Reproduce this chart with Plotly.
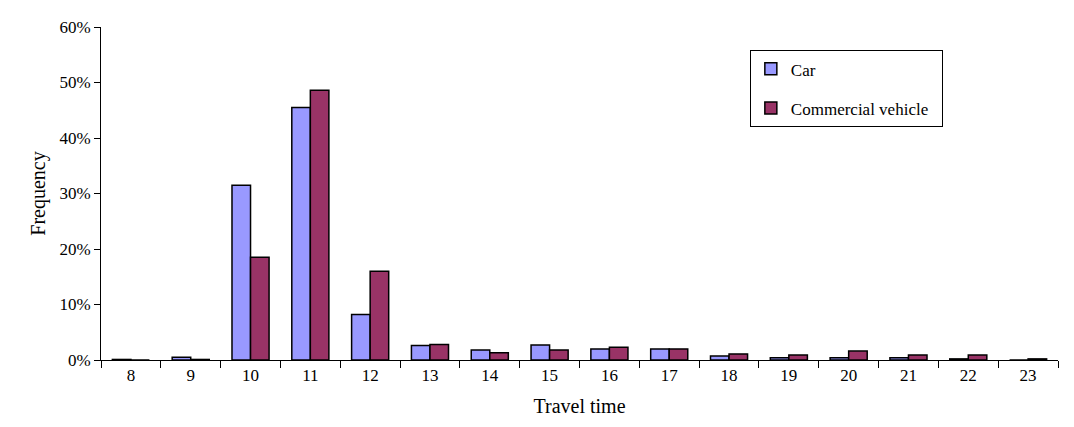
import plotly.graph_objects as go

travel_time = [str(t) for t in range(8, 24)]
car = [0.1, 0.5, 31.5, 45.5, 8.2, 2.6, 1.8, 2.7, 2.0, 2.0, 0.7, 0.4, 0.4, 0.4, 0.2, 0.0]
commercial = [0.0, 0.1, 18.5, 48.6, 16.0, 2.8, 1.3, 1.8, 2.3, 2.0, 1.1, 0.9, 1.6, 0.9, 0.9, 0.2]

fig = go.Figure()
fig.add_bar(x=travel_time, y=[v / 100 for v in car], name='Car', legendgroup='a',
            marker=dict(color='#9999FF', line=dict(color='black', width=1.5)))
fig.add_bar(x=travel_time, y=[v / 100 for v in commercial], name='Commercial vehicle  ',
            legendgroup='b',
            marker=dict(color='#993366', line=dict(color='black', width=1.5)))

fig.update_layout(
    width=1074, height=427,
    plot_bgcolor='white', paper_bgcolor='white',
    font=dict(family='Liberation Serif, Times New Roman, serif', size=17, color='black'),
    margin=dict(l=93, r=24, t=10, b=75),
    bargap=0.38, bargroupgap=0,
    legend=dict(x=0.678, y=0.93, xanchor='left', yanchor='top',
                bordercolor='black', borderwidth=1, bgcolor='white',
                tracegroupgap=14, font=dict(size=17)),
    xaxis=dict(title=dict(text='Travel time', standoff=14), showline=True, linecolor='black',
               ticks='outside', tickson='boundaries', tickcolor='black', ticklen=7,
               showgrid=False),
    yaxis=dict(title=dict(text='Frequency', standoff=8), range=[0, 0.6], dtick=0.1,
               tickformat='.0%', showline=True, linecolor='black', ticks='outside',
               tickcolor='black', ticklen=6, showgrid=False, zeroline=False),
)

fig.write_html("out.html")
